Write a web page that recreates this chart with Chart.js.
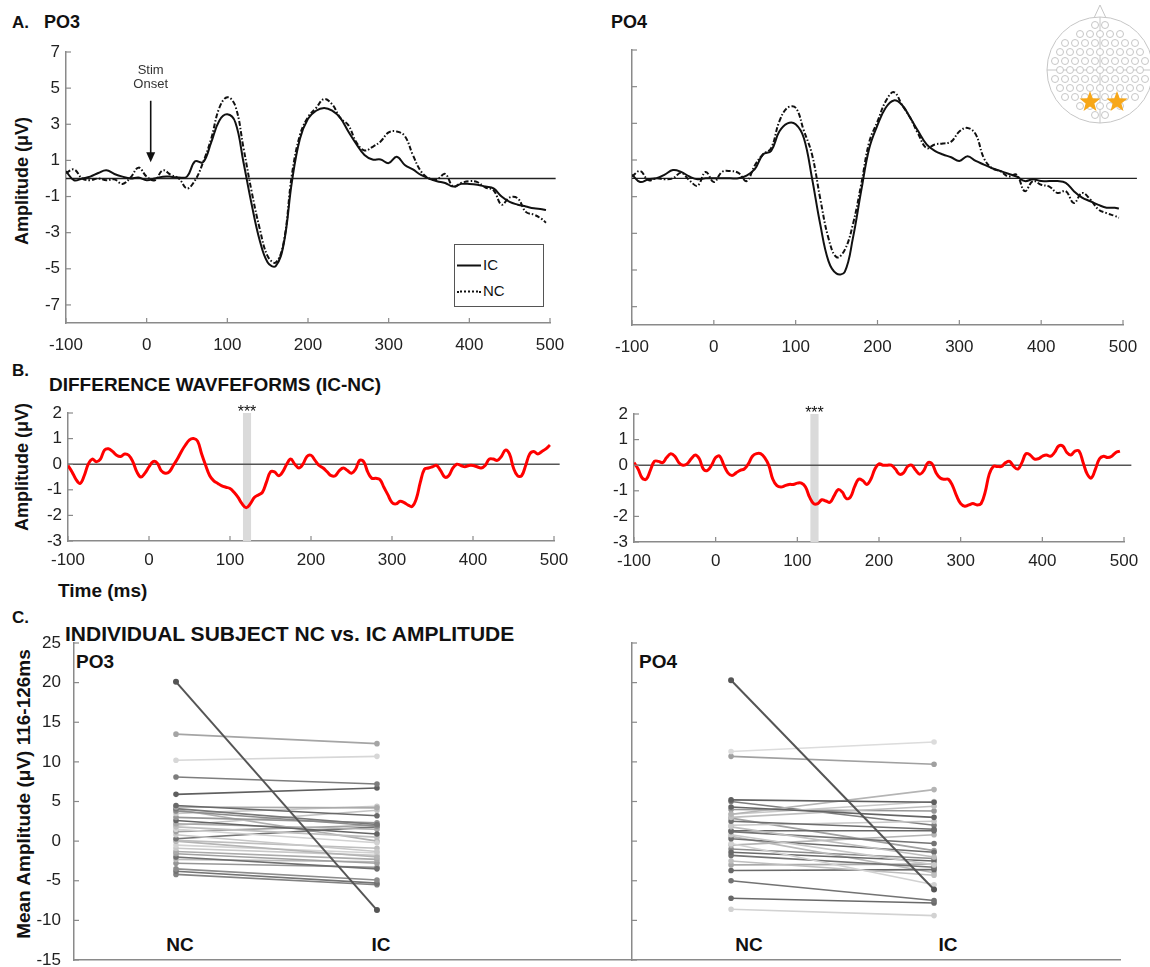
<!DOCTYPE html>
<html>
<head>
<meta charset="utf-8">
<title>ERP amplitude figure</title>
<script src="https://cdn.jsdelivr.net/npm/chart.js@4.4.1/dist/chart.umd.min.js"></script>
<style>
  html, body { margin: 0; padding: 0; background: #fff; }
  body { position: relative; width: 1150px; height: 967px; overflow: hidden;
         font-family: "Liberation Sans", Arial, Helvetica, sans-serif; color: #111; }
  canvas { position: absolute; }
  .lbl { position: absolute; white-space: nowrap; font-weight: bold; line-height: 1; transform: translateY(-50%); }
  .ytitle { position: absolute; white-space: nowrap; font-weight: bold; font-size: 18px; line-height: 1;
            transform: translate(-50%, -50%) rotate(-90deg); }
  .cat { position: absolute; font-weight: bold; font-size: 19px; line-height: 1; transform: translate(-50%, -50%); }
  #legend { position: absolute; left: 454px; top: 244px; width: 90px; height: 63px;
            border: 1.5px solid #555; box-sizing: border-box; background: #fff; font-size: 15px; }
  #legend .row { position: absolute; left: 2px; line-height: 1; transform: translateY(-50%); white-space: nowrap; }
  #legend .sw { display: inline-block; width: 24px; vertical-align: middle; margin-right: 2px; }
</style>
</head>
<body>

<div class="lbl" style="left:12px;top:22px;font-size:17px">A.</div>
<div class="lbl" style="left:44px;top:22px;font-size:18px">PO3</div>
<div class="lbl" style="left:611px;top:22px;font-size:18px">PO4</div>
<div class="ytitle" style="left:22px;top:181px">Amplitude (μV)</div>

<div class="lbl" style="left:12px;top:370px;font-size:17px">B.</div>
<div class="lbl" style="left:49px;top:384px;font-size:19px">DIFFERENCE WAVFEFORMS (IC-NC)</div>
<div class="ytitle" style="left:22px;top:467px">Amplitude (μV)</div>
<div class="lbl" style="left:58px;top:590px;font-size:19px">Time (ms)</div>

<div class="lbl" style="left:12px;top:617px;font-size:17px">C.</div>
<div class="lbl" style="left:65px;top:633px;font-size:21px">INDIVIDUAL SUBJECT NC vs. IC AMPLITUDE</div>
<div class="ytitle" style="left:23px;top:794px;font-size:19px">Mean Amplitude (μV) 116-126ms</div>
<div class="lbl" style="left:76px;top:661px;font-size:19px">PO3</div>
<div class="lbl" style="left:639px;top:661px;font-size:19px">PO4</div>
<div class="cat" style="left:180px;top:944px">NC</div>
<div class="cat" style="left:381px;top:944px">IC</div>
<div class="cat" style="left:749px;top:944px">NC</div>
<div class="cat" style="left:948px;top:944px">IC</div>

<canvas id="cA1"></canvas>
<canvas id="cA2"></canvas>
<canvas id="cB1"></canvas>
<canvas id="cB2"></canvas>
<canvas id="cC1"></canvas>
<canvas id="cC2"></canvas>
<canvas id="head"></canvas>

<div id="legend">
  <div class="row" style="top:19px"><span class="sw" style="border-top:2px solid #111"></span>IC</div>
  <div class="row" style="top:45px"><span class="sw" style="border-top:2px dotted #111"></span>NC</div>
</div>

<script>
// ---- data ----
const timeA = [-100, -90, -80, -70, -60, -50, -40, -30, -20, -10,
  0, 10, 20, 30, 40, 50, 60, 70, 80, 90,
  100, 110, 120, 130, 140, 150, 160, 170, 180, 190,
  200, 210, 220, 230, 240, 250, 260, 270, 280, 290,
  300, 310, 320, 330, 340, 350, 360, 370, 380, 390,
  400, 410, 420, 430, 440, 450, 460, 470, 480, 490, 495];

const po3IC = [0.4, -0.1, 0.0, 0.1, 0.3, 0.45, 0.25, 0.1, 0.0, 0.05,
  -0.1, 0.0, 0.1, 0.1, 0.05, 0.1, 0.95, 0.9, 2.0, 3.2,
  3.55, 3.1, 0.9, -1.4, -3.4, -4.65, -4.85, -3.6, -0.2, 2.2,
  3.3, 3.75, 3.9, 3.75, 3.35, 2.6, 1.9, 1.3, 1.05, 1.05,
  0.85, 1.2, 0.75, 0.5, 0.2, 0.0, -0.15, -0.25, -0.45, -0.3,
  -0.3, -0.35, -0.45, -0.55, -1.0, -1.3, -1.45, -1.55, -1.65, -1.7, -1.75];

const po3NC = [0.3, 0.5, 0.0, -0.1, 0.0, -0.1, -0.05, -0.3, 0.05, 0.6,
  0.1, -0.1, 0.45, 0.2, 0.0, -0.55, -0.1, 0.9, 2.2, 3.9,
  4.5, 4.0, 1.7, -0.7, -2.75, -4.3, -4.65, -3.5, 0.2, 2.4,
  3.4, 3.9, 4.4, 4.1, 3.35, 2.95, 2.0, 1.55, 1.75, 2.05,
  2.55, 2.6, 2.35, 1.3, 0.4, 0.0, -0.05, 0.25, -0.45, -0.25,
  -0.15, -0.2, -0.5, -0.65, -1.45, -1.05, -1.1, -1.85, -2.0, -2.25, -2.45];

const po4IC = [0.2, -0.2, -0.05, 0.0, 0.2, 0.45, 0.35, 0.1, -0.05, 0.0,
  0.0, 0.0, 0.0, 0.0, 0.15, 0.5, 1.3, 1.5, 2.55, 3.0,
  2.95, 2.2, 0.0, -2.5, -4.5, -5.2, -5.1, -3.25, -0.7, 1.65,
  2.9, 3.85, 4.25, 4.0, 3.3, 2.55, 1.85, 1.5, 1.3, 1.15,
  0.95, 1.2, 0.95, 0.75, 0.55, 0.4, 0.25, 0.1, -0.15, -0.05,
  -0.15, -0.15, -0.15, -0.25, -0.7, -1.05, -1.25, -1.45, -1.6, -1.6, -1.65];

const po4NC = [0.1, 0.4, -0.1, 0.0, -0.05, 0.0, 0.3, -0.1, -0.4, 0.35,
  -0.2, 0.35, 0.4, 0.3, -0.15, 0.7, 1.3, 1.65, 3.1, 3.85,
  3.85, 2.6, 1.3, -1.1, -3.25, -4.3, -3.9, -2.5, -0.35, 2.0,
  3.1, 4.2, 4.7, 4.0, 3.3, 2.4, 1.65, 1.85, 1.9, 2.0,
  2.55, 2.75, 2.4, 1.1, 0.55, 0.4, 0.1, 0.2, -0.7, -0.15,
  -0.35, -0.45, -0.8, -0.7, -1.35, -0.8, -1.15, -1.7, -1.9, -2.05, -2.15];

const timeD = [-100, -95, -90, -85, -80, -75, -70, -65, -60, -55,
  -50, -45, -40, -35, -30, -25, -20, -15, -10, -5,
  0, 5, 10, 15, 20, 25, 30, 35, 40, 45,
  50, 55, 60, 65, 70, 75, 80, 85, 90, 95,
  100, 105, 110, 115, 120, 125, 130, 135, 140, 145,
  150, 155, 160, 165, 170, 175, 180, 185, 190, 195,
  200, 205, 210, 215, 220, 225, 230, 235, 240, 245,
  250, 255, 260, 265, 270, 275, 280, 285, 290, 295,
  300, 305, 310, 315, 320, 325, 330, 335, 340, 345,
  350, 355, 360, 365, 370, 375, 380, 385, 390, 395,
  400, 405, 410, 415, 420, 425, 430, 435, 440, 445,
  450, 455, 460, 465, 470, 475, 480, 485, 490, 495];

const diffPO3 = [-0.05, -0.3, -0.6, -0.75, -0.45, 0.0, 0.2, 0.1, 0.2, 0.55,
  0.6, 0.5, 0.35, 0.3, 0.4, 0.35, 0.1, -0.3, -0.5, -0.35,
  -0.1, 0.1, 0.05, -0.25, -0.35, -0.3, -0.05, 0.2, 0.5, 0.75,
  0.95, 1.0, 0.9, 0.4, -0.05, -0.45, -0.65, -0.75, -0.85, -0.9,
  -0.95, -1.1, -1.3, -1.55, -1.7, -1.55, -1.3, -1.2, -1.1, -0.7,
  -0.3, -0.3, -0.45, -0.3, 0.0, 0.2, 0.0, -0.15, 0.0, 0.3,
  0.35, 0.15, -0.05, -0.15, -0.3, -0.45, -0.45, -0.25, -0.15, -0.25,
  -0.35, -0.2, 0.15, 0.1, -0.3, -0.55, -0.55, -0.6, -0.9, -1.2,
  -1.5, -1.55, -1.45, -1.5, -1.6, -1.65, -1.35, -0.7, -0.2, -0.15,
  -0.1, -0.05, -0.25, -0.5, -0.45, -0.15, 0.0, -0.05, -0.1, -0.05,
  -0.05, -0.1, -0.15, -0.05, 0.2, 0.2, 0.15, 0.3, 0.55, 0.4,
  -0.15, -0.45, -0.45, -0.05, 0.4, 0.5, 0.4, 0.5, 0.6, 0.75];

const diffPO4 = [0.1, -0.15, -0.5, -0.55, -0.2, 0.15, 0.15, 0.1, 0.3, 0.45,
  0.35, 0.1, 0.0, 0.05, 0.25, 0.4, 0.25, -0.15, -0.2, 0.0,
  0.3, 0.35, 0.0, -0.3, -0.4, -0.3, -0.2, -0.15, 0.05, 0.35,
  0.45, 0.45, 0.3, 0.0, -0.55, -0.8, -0.85, -0.8, -0.75, -0.75,
  -0.7, -0.7, -0.85, -1.25, -1.5, -1.5, -1.35, -1.4, -1.45, -1.2,
  -0.95, -1.05, -1.3, -1.25, -0.85, -0.55, -0.6, -0.75, -0.55, -0.15,
  0.05, 0.0, 0.0, 0.0, -0.15, -0.35, -0.3, -0.05, 0.0, -0.2,
  -0.35, -0.2, 0.1, 0.05, -0.3, -0.5, -0.55, -0.55, -0.8, -1.2,
  -1.5, -1.6, -1.55, -1.5, -1.55, -1.5, -1.05, -0.35, -0.05, -0.05,
  -0.05, 0.1, 0.15, -0.05, -0.15, 0.1, 0.45, 0.4, 0.25, 0.25,
  0.35, 0.4, 0.35, 0.5, 0.75, 0.75, 0.5, 0.4, 0.55, 0.55,
  0.1, -0.35, -0.5, -0.15, 0.25, 0.35, 0.3, 0.35, 0.5, 0.55];

// significant window (ms)
const sigWindow = [116, 126];

// individual subjects, mean amplitude 116-126 ms
const subjNC_PO3 = [20.1, 13.5, 10.2, 8.1, 5.9, 4.5, 4.3, 4.1, 3.8, 3.5, 3.0, 2.6, 2.2, 1.8, 1.5, 1.2,
  0.8, 0.3, 0.1, 0.0, -0.5, -0.9, -1.3, -1.6, -2.0, -2.3, -2.8, -3.5, -3.8, -4.2, 2.0, 4.0];
const subjIC_PO3 = [-8.7, 12.3, 10.7, 7.2, 6.7, 3.2, 4.2, 2.1, 1.9, 4.4, 2.3, 0.9, 1.5, 0.5, -0.2, 2.0,
  -1.3, 1.8, -0.9, -2.0, -1.5, -1.8, -2.3, -2.8, -3.5, -2.6, -3.3, -4.9, -5.3, -5.5, 3.9, 0.0];
const subjNC_PO4 = [20.3, 11.3, 10.7, 5.2, 4.3, 3.4, 3.4, 3.0, 2.5, 2.0, 1.8, 1.3, 1.2, 0.8, 0.3,
  -0.3, -0.5, -1.4, -1.8, -2.5, -3.0, -3.7, -5.0, -7.2, -8.6, 4.0, 2.9, 0.6, -1.0, 5.0];
const subjIC_PO4 = [-6.1, 12.5, 9.7, 4.9, 3.0, 6.5, 5.0, 4.4, 1.5, 2.5, -2.0, 1.3, -0.3, -3.0, -1.4,
  -5.5, 0.8, -2.5, -3.3, -4.3, -2.9, -3.6, -7.5, -7.8, -9.4, 3.8, -1.2, -4.0, -2.2, 2.0];

const xTicks = [-100, 0, 100, 200, 300, 400, 500];
const yTicksA = [7, 5, 3, 1, -1, -3, -5, -7];
const yTicksB = [2, 1, 0, -1, -2, -3];
const yTicksC = [25, 20, 15, 10, 5, 0, -5, -10, -15];

// ---- styles ----
const greyPO3 = [85, 165, 215, 125, 95, 105, 170, 120, 140, 200, 150, 100, 170, 190, 210, 160,
  200, 115, 190, 180, 210, 200, 170, 160, 110, 185, 150, 140, 115, 130, 195, 175];
const greyPO4 = [85, 220, 160, 95, 100, 180, 200, 190, 110, 200, 190, 105, 115, 200, 110,
  210, 180, 105, 115, 190, 170, 105, 115, 105, 210, 150, 160, 185, 140, 125];

const FONT = '"Liberation Sans", Arial, Helvetica, sans-serif';
Chart.defaults.font.family = FONT;
Chart.defaults.color = '#222';
const AXIS = '#8a8a8a';

const inTicks = {
  id: 'inTicks',
  afterDatasetsDraw(chart, args, o) {
    if (!o.axes) return;
    const { ctx, chartArea: a } = chart;
    ctx.save();
    ctx.strokeStyle = AXIS;
    ctx.lineWidth = 1.2;
    o.axes.forEach(k => {
      const s = chart.scales[k];
      s.ticks.forEach(t => {
        const p = s.getPixelForValue(t.value);
        ctx.beginPath();
        if (s.isHorizontal()) { ctx.moveTo(p, a.bottom); ctx.lineTo(p, a.bottom - 5); }
        else { ctx.moveTo(a.left, p); ctx.lineTo(a.left + 5, p); }
        ctx.stroke();
      });
    });
    ctx.restore();
  }
};

const band = {
  id: 'band',
  beforeDatasetsDraw(chart, args, o) {
    if (!o.range) return;
    const { ctx, chartArea: a, scales: { x } } = chart;
    const x0 = x.getPixelForValue(o.range[0]);
    const x1 = x.getPixelForValue(o.range[1]);
    ctx.save();
    ctx.fillStyle = '#dadada';
    ctx.fillRect(x0, a.top, x1 - x0, a.bottom - a.top);
    ctx.fillStyle = '#111';
    ctx.font = '16px ' + FONT;
    ctx.textAlign = 'center';
    ctx.textBaseline = 'alphabetic';
    ctx.fillText('***', (x0 + x1) / 2, a.top + 4);
    ctx.restore();
  }
};

const stim = {
  id: 'stim',
  afterDatasetsDraw(chart, args, o) {
    if (o.at === undefined) return;
    const { ctx, scales: { x, y } } = chart;
    const px = x.getPixelForValue(o.at);
    const y0 = y.getPixelForValue(o.from);
    const y1 = y.getPixelForValue(o.to);
    ctx.save();
    ctx.strokeStyle = '#111';
    ctx.fillStyle = '#111';
    ctx.lineWidth = 1.6;
    ctx.beginPath(); ctx.moveTo(px, y0); ctx.lineTo(px, y1 - 8); ctx.stroke();
    ctx.beginPath(); ctx.moveTo(px - 4.5, y1 - 10); ctx.lineTo(px + 4.5, y1 - 10); ctx.lineTo(px, y1); ctx.closePath(); ctx.fill();
    ctx.font = '13px ' + FONT;
    ctx.textAlign = 'center';
    ctx.textBaseline = 'middle';
    ctx.fillStyle = '#333';
    o.text.forEach((s, i) => ctx.fillText(s, px, y.getPixelForValue(o.textAt[i])));
    ctx.restore();
  }
};

Chart.register(inTicks, band, stim);

function place(id, area, m) {
  const c = document.getElementById(id);
  c.width = area.r - area.l + m.l + m.r;
  c.height = area.b - area.t + m.t + m.b;
  c.style.left = (area.l - m.l) + 'px';
  c.style.top = (area.t - m.t) + 'px';
  return c;
}

function axis(pos, min, max, ticks, fit, show, pad) {
  return {
    type: 'linear', position: pos, min: min, max: max,
    afterBuildTicks: s => { s.ticks = ticks.map(v => ({ value: v })); },
    afterFit: s => { if (pos === 'left') s.width = fit; else s.height = fit; },
    grid: { display: true, drawOnChartArea: false, drawTicks: false },
    border: { display: true, color: AXIS, width: 1.5 },
    ticks: { display: show, padding: pad, font: { size: 17 }, color: '#222', autoSkip: false, maxRotation: 0 }
  };
}

function trace(t, v, color, width, dash) {
  return {
    data: t.map((x, i) => ({ x: x, y: v[i] })),
    borderColor: color, borderWidth: width, borderDash: dash,
    pointRadius: 0, tension: 0.4, fill: false
  };
}

function zero(x0, x1, color) {
  return {
    data: [{ x: x0, y: 0 }, { x: x1, y: 0 }],
    borderColor: color, borderWidth: 1.4, pointRadius: 0, clip: false
  };
}

function opts(m, x, y, plugins) {
  return {
    responsive: false, animation: false, events: [],
    layout: { padding: { top: m.t, right: m.r, left: 0, bottom: 0 } },
    plugins: Object.assign({ legend: { display: false }, tooltip: { enabled: false } }, plugins),
    scales: { x: x, y: y }
  };
}

// ---- A: grand average waveforms ----
const mA = { l: 60, t: 24, r: 30, b: 40 };
new Chart(place('cA1', { l: 66, t: 52, r: 550, b: 323 }, mA), {
  type: 'line',
  data: { datasets: [
    trace(timeA, po3IC, '#111', 2, []),
    trace(timeA, po3NC, '#111', 2, [5, 2, 1.5, 2]),
    zero(-100, 507, '#222')
  ] },
  options: opts(mA,
    axis('bottom', -100, 500, xTicks, mA.b, true, 12),
    axis('left', -8, 7, yTicksA, mA.l, true, 6),
    { inTicks: { axes: ['x', 'y'] },
      stim: { at: 5, from: 4.3, to: 0.9, text: ['Stim', 'Onset'], textAt: [6.0, 5.2] } })
});

new Chart(place('cA2', { l: 632, t: 50, r: 1123, b: 325 }, mA), {
  type: 'line',
  data: { datasets: [
    trace(timeA, po4IC, '#111', 2, []),
    trace(timeA, po4NC, '#111', 2, [5, 2, 1.5, 2]),
    zero(-100, 517, '#222')
  ] },
  options: opts(mA,
    axis('bottom', -100, 500, xTicks, mA.b, true, 12),
    axis('left', -8, 7, yTicksA, mA.l, false, 6),
    { inTicks: { axes: ['x', 'y'] } })
});

// ---- B: difference waves ----
const mB = { l: 60, t: 24, r: 30, b: 40 };
new Chart(place('cB1', { l: 68, t: 413, r: 554, b: 541 }, mB), {
  type: 'line',
  data: { datasets: [
    trace(timeD, diffPO3, '#ff0000', 3, []),
    zero(-100, 507, '#555')
  ] },
  options: opts(mB,
    axis('bottom', -100, 500, xTicks, mB.b, true, 9),
    axis('left', -3, 2, yTicksB, mB.l, true, 6),
    { inTicks: { axes: ['x', 'y'] }, band: { range: sigWindow } })
});

new Chart(place('cB2', { l: 634, t: 414, r: 1124, b: 542 }, mB), {
  type: 'line',
  data: { datasets: [
    trace(timeD, diffPO4, '#ff0000', 3, []),
    zero(-100, 509, '#555')
  ] },
  options: opts(mB,
    axis('bottom', -100, 500, xTicks, mB.b, true, 9),
    axis('left', -3, 2, yTicksB, mB.l, true, 6),
    { inTicks: { axes: ['x', 'y'] }, band: { range: sigWindow } })
});

// ---- C: individual subjects ----
function subjects(nc, ic, grey) {
  return nc.map((v, i) => {
    const g = grey[i];
    const c = 'rgb(' + g + ',' + g + ',' + g + ')';
    return {
      data: [{ x: 1, y: v }, { x: 2, y: ic[i] }],
      borderColor: c, backgroundColor: c, pointBackgroundColor: c, pointBorderColor: c,
      borderWidth: i === 0 ? 2 : 1.6, pointRadius: 2, tension: 0
    };
  });
}

const mC = { l: 60, t: 30, r: 30, b: 30 };
new Chart(place('cC1', { l: 74, t: 643, r: 630, b: 960 }, mC), {
  type: 'line',
  data: { datasets: subjects(subjNC_PO3, subjIC_PO3, greyPO3) },
  options: opts(mC,
    axis('bottom', 0.4925, 3.259, [], mC.b, false, 0),
    axis('left', -15, 25, yTicksC, mC.l, true, 13),
    { inTicks: { axes: ['y'] } })
});

new Chart(place('cC2', { l: 632, t: 643, r: 1120, b: 960 }, mC), {
  type: 'line',
  data: { datasets: subjects(subjNC_PO4, subjIC_PO4, greyPO4) },
  options: opts(mC,
    axis('bottom', 0.512, 2.916, [], mC.b, false, 0),
    axis('left', -15, 25, yTicksC, mC.l, false, 13),
    { inTicks: { axes: ['y'] } })
});

// ---- electrode map inset ----
(function drawHead() {
  const c = document.getElementById('head');
  c.width = 110; c.height = 132;
  c.style.left = '1040px'; c.style.top = '0px';
  const g = c.getContext('2d');
  const cx = 60, cy = 70, r = 53;
  g.strokeStyle = '#c6c6c6';
  g.lineWidth = 1;
  g.beginPath(); g.arc(cx, cy, r, 0, Math.PI * 2); g.stroke();
  g.beginPath(); g.moveTo(cx - 6, cy - r + 1); g.lineTo(cx, 5); g.lineTo(cx + 6, cy - r + 1); g.stroke();
  g.beginPath();
  g.moveTo(cx, cy - r); g.lineTo(cx, cy + r);
  g.moveTo(cx - r, cy); g.lineTo(cx + r, cy);
  g.stroke();
  const sp = 10;
  for (let j = -5; j <= 5; j++) {
    for (let i = -6; i <= 6; i++) {
      const x = cx + i * sp + (j % 2 ? sp / 2 : 0);
      const y = cy + j * sp * 0.9;
      if (Math.hypot(x - cx, y - cy) > r - 7) continue;
      g.beginPath(); g.arc(x, y, 3.5, 0, Math.PI * 2);
      g.fillStyle = '#fff'; g.fill(); g.stroke();
    }
  }
  function star(x, y, R, rr) {
    g.beginPath();
    for (let k = 0; k < 10; k++) {
      const a = -Math.PI / 2 + k * Math.PI / 5;
      const rad = k % 2 ? rr : R;
      g.lineTo(x + rad * Math.cos(a), y + rad * Math.sin(a));
    }
    g.closePath();
    g.fillStyle = '#f7a718';
    g.fill();
  }
  star(50, 102, 11, 4.6);
  star(77, 102, 11, 4.6);
})();
</script>
</body>
</html>
